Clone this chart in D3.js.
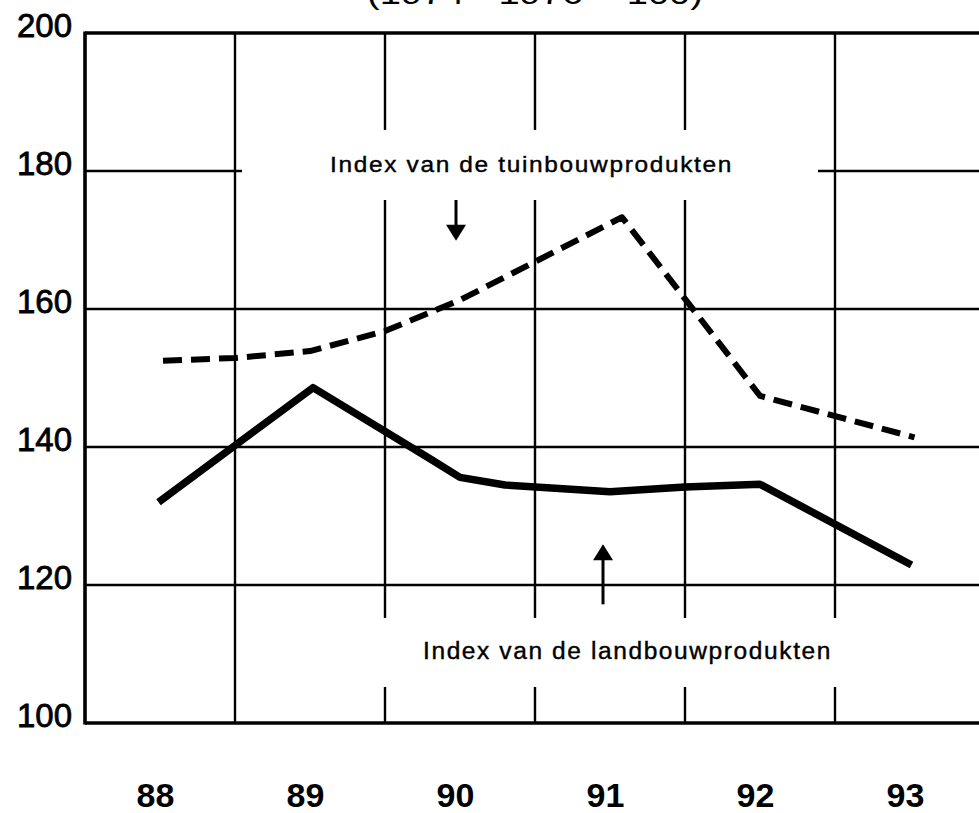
<!DOCTYPE html>
<html>
<head>
<meta charset="utf-8">
<script src="https://cdn.jsdelivr.net/npm/d3@7"></script>
<style>
  body { margin: 0; background: #fff; }
  svg { display: block; }
</style>
</head>
<body>
<svg id="chart" width="979" height="813"></svg>
<script>
// values
var years = [88, 89, 90, 91, 92, 93]
var yearLabels = ["88", "89", "90", "91", "92", "93"]
var yTicks = [100, 120, 140, 160, 180, 200]

// Index van de tuinbouwprodukten (dashed)
var tuinX = [88.02, 88.5, 89, 89.5, 90, 91.08, 92, 93.03]
var tuinY = [152.5, 152.9, 153.9, 156.8, 161.3, 173.3, 147.4, 141.4]

// Index van de landbouwprodukten (solid)
var landX = [87.99, 89.02, 89.8, 90, 90.3, 91, 91.5, 92, 93.01]
var landY = [132.0, 148.6, 138.3, 135.6, 134.5, 133.5, 134.2, 134.6, 122.9]

var title = "(1974 - 1976 = 100)"
var labelTuin = "Index van de tuinbouwprodukten"
var labelLand = "Index van de landbouwprodukten"

var svg = d3.select("#chart")

var x = d3.scaleLinear().domain([87.5, 93.5]).range([85, 985])
var y = d3.scaleLinear().domain([100, 200]).range([723, 33])

var font = "'Liberation Sans', Arial, Helvetica, sans-serif"

// title, mostly cut off at the top of the page (as in the scan)
svg.append("text")
  .attr("x", 367).attr("y", 4)
  .attr("textLength", 336).attr("lengthAdjust", "spacingAndGlyphs")
  .style("font-family", font).style("font-size", "30px")
  .text(title)

// grid
var grid = svg.append("g").attr("stroke", "#000").attr("stroke-width", 2.4)

grid.selectAll("line.h")
  .data(yTicks.filter(function (d) { return d > 100 && d < 200 }))
  .enter().append("line")
  .attr("class", "h")
  .attr("x1", x.range()[0]).attr("x2", 979)
  .attr("y1", function (d) { return y(d) }).attr("y2", function (d) { return y(d) })

grid.selectAll("line.v")
  .data(d3.range(88.5, 93, 1))
  .enter().append("line")
  .attr("class", "v")
  .attr("x1", function (d) { return x(d) }).attr("x2", function (d) { return x(d) })
  .attr("y1", y(200)).attr("y2", y(100))

// white boxes behind the two annotations (they break the grid)
svg.append("rect")
  .attr("x", 242).attr("y", 130).attr("width", 576).attr("height", 70)
  .attr("fill", "#fff")
svg.append("rect")
  .attr("x", 250).attr("y", 618).attr("width", 729).attr("height", 69)
  .attr("fill", "#fff")

// frame: left, top and bottom
var frame = svg.append("g").attr("stroke", "#000").attr("stroke-width", 3.6)
frame.append("line").attr("x1", x.range()[0]).attr("x2", x.range()[0]).attr("y1", y(200) - 1.5).attr("y2", y(100) + 1.5)
frame.append("line").attr("x1", x.range()[0]).attr("x2", 979).attr("y1", y(200)).attr("y2", y(200))
frame.append("line").attr("x1", x.range()[0]).attr("x2", 979).attr("y1", y(100)).attr("y2", y(100))

// y axis labels
var yAxis = svg.append("g")
  .attr("transform", "translate(72,0)")
  .call(d3.axisLeft(y).tickValues(yTicks).tickSize(0).tickPadding(0))
yAxis.select(".domain").remove()
yAxis.selectAll("text")
  .attr("dy", "0.12em")
  .style("font-family", font).style("font-size", "33px")
  .attr("fill", "#000").attr("stroke", "#000").attr("stroke-width", 0.8)

// x axis labels
var xAxis = svg.append("g")
  .attr("transform", "translate(-5,782)")
  .call(d3.axisBottom(x).tickValues(years).tickFormat(function (d, i) { return yearLabels[i] }).tickSize(0).tickPadding(0))
xAxis.select(".domain").remove()
xAxis.selectAll("text")
  .attr("y", 25).attr("dy", 0)
  .style("font-family", font).style("font-size", "34px").style("font-weight", "bold")
  .attr("fill", "#000")

// series
var line = d3.line()
  .x(function (d) { return x(d[0]) })
  .y(function (d) { return y(d[1]) })
  .curve(d3.curveLinear)

svg.append("path")
  .datum(d3.zip(tuinX, tuinY))
  .attr("d", line)
  .attr("fill", "none").attr("stroke", "#000")
  .attr("stroke-width", 6).attr("stroke-dasharray", "19,9")
  .attr("stroke-linejoin", "round")

svg.append("path")
  .datum(d3.zip(landX, landY))
  .attr("d", line)
  .attr("fill", "none").attr("stroke", "#000")
  .attr("stroke-width", 7.5)
  .attr("stroke-linejoin", "round")

// annotations
svg.append("text")
  .attr("x", 330).attr("y", 172)
  .attr("textLength", 403).attr("lengthAdjust", "spacingAndGlyphs")
  .style("font-family", font).style("font-size", "22px").style("letter-spacing", "1.5px")
  .attr("fill", "#000").attr("stroke", "#000").attr("stroke-width", 0.4)
  .text(labelTuin)

svg.append("text")
  .attr("x", 423).attr("y", 659)
  .attr("textLength", 409).attr("lengthAdjust", "spacingAndGlyphs")
  .style("font-family", font).style("font-size", "23px").style("letter-spacing", "1.5px")
  .attr("fill", "#000").attr("stroke", "#000").attr("stroke-width", 0.4)
  .text(labelLand)

function arrow(ax, yFrom, yTo) {
  var dir = yTo > yFrom ? 1 : -1
  var head = 16
  svg.append("line")
    .attr("x1", ax).attr("x2", ax)
    .attr("y1", yFrom).attr("y2", yTo - dir * (head - 2))
    .attr("stroke", "#000").attr("stroke-width", 3)
  svg.append("path")
    .attr("d", "M" + (ax - 10) + "," + (yTo - dir * head) + "L" + (ax + 10) + "," + (yTo - dir * head) + "L" + ax + "," + yTo + "Z")
    .attr("fill", "#000")
}
// pointing down at the dashed line, and up at the solid line
arrow(x(90) - 4, y(175.8), y(169.9))
arrow(x(91) - 7, y(117.2), y(125.9))
</script>
</body>
</html>
